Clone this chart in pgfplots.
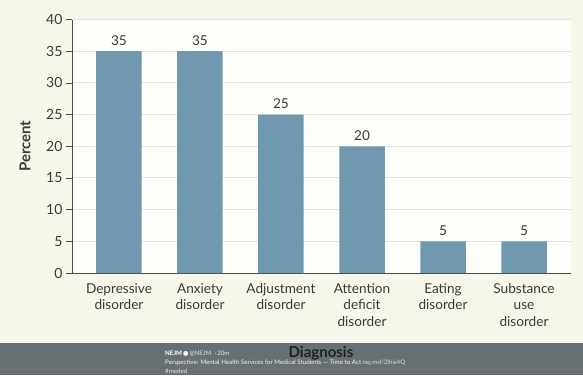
\documentclass[border=0pt]{standalone}
\usepackage{pgfplots}
\pgfplotsset{compat=1.18}
\usepackage{fontspec}
\setmainfont{Lato}
\newfontfamily\sym{DejaVu Sans}
\definecolor{bgc}{HTML}{F6F6EA}
\definecolor{plotc}{HTML}{FEFEFA}
\definecolor{barc}{HTML}{7098AF}
\definecolor{gridc}{HTML}{E2E2E0}
\definecolor{axc}{HTML}{4A4A48}
\definecolor{txtc}{HTML}{3A3A3A}
\definecolor{bandc}{HTML}{697073}
\begin{document}
\begin{tikzpicture}[x=1pt,y=1pt]
\useasboundingbox (0,0) rectangle (583,375);
\fill[bgc] (0,0) rectangle (583,375);
\fill[bandc] (0,0) rectangle (583,32.5);
\draw[white!85!bgc,line width=0.6pt] (0,32.5) -- (583,32.5);
\begin{axis}[
  at={(72pt,102pt)}, anchor=south west,
  scale only axis, width=499pt, height=253.5pt,
  xmin=-0.58, xmax=5.58, ymin=0, ymax=40,
  axis background/.style={fill=plotc},
  axis x line*=bottom, axis y line*=left,
  axis line style={axc,line width=0.9pt,-},
  ytick={0,5,...,40},
  xtick=data,
  xticklabels={Depressive\\disorder,Anxiety\\disorder,Adjustment\\disorder,Attention\\deficit\\disorder,Eating\\disorder,Substance\\use\\disorder},
  x tick label style={align=center,font=\fontsize{13.6}{16.3}\selectfont,text=txtc,yshift=-1pt},
  y tick label style={font=\fontsize{14}{16}\selectfont,text=txtc,xshift=0pt},
  /pgf/number format/assume math mode=true,
  major x tick style={draw=none},
  ytick style={axc,line width=0.7pt},
  tick align=outside, major tick length=6pt,
  ymajorgrids, grid style={gridc,line width=1pt},
  ylabel={\textbf{Percent}},
  ylabel style={font=\fontsize{15}{17}\selectfont,text=txtc,at={(axis description cs:-0.094,0.5)},anchor=center,rotate=0},
  ybar, bar width=45.5pt,
  nodes near coords,
  nodes near coords style={font=\fontsize{13.6}{16}\selectfont,text=txtc,yshift=2.5pt},
  clip=false,
]
\addplot[fill=barc,draw=none] coordinates {(0,35)(1,35)(2,25)(3,20)(4,5)(5,5)};
\end{axis}
\node[font=\bfseries\fontsize{15}{17}\selectfont,text=black!70!bandc] at (321,21.5) {Diagnosis};
\node[anchor=west,inner sep=0pt,text=white,font=\fontsize{6.2}{7}\selectfont] at (165,21.7) {\textbf{NEJM}\,{\sym ●}\,{\color{white!80!bandc}@NEJM\ \ ·\,20m}};
\node[anchor=west,inner sep=0pt,text=white!92!bandc,font=\fontsize{6.2}{7}\selectfont] at (165,12.3) {Perspective: Mental Health Services for Medical Students — Time to Act {\color{white!75!bandc}nej.md/2Ihsi4Q}};
\node[anchor=west,inner sep=0pt,text=white!80!bandc,font=\fontsize{6.2}{7}\selectfont] at (165,3.3) {\#meded};
\end{tikzpicture}
\end{document}
